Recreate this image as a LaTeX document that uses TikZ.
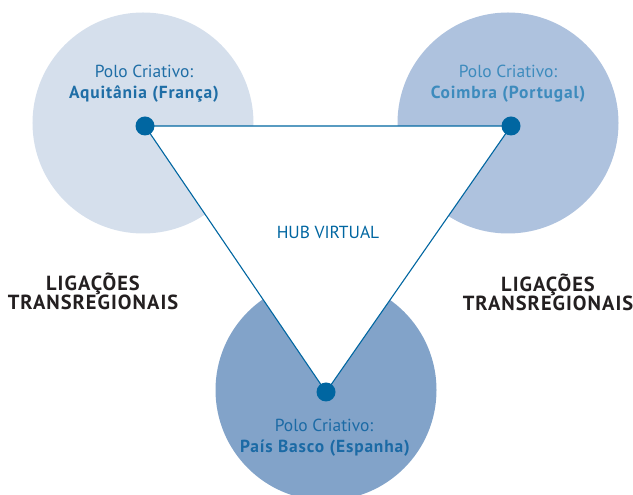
\documentclass[tikz,border=0pt]{standalone}
\usepackage{fontspec}
\setmainfont{PT Sans}
\definecolor{lineblue}{HTML}{0066A1}
\definecolor{circA}{HTML}{D5DFEC}
\definecolor{circB}{HTML}{AEC2DE}
\definecolor{circC}{HTML}{82A3C9}
\definecolor{txtA}{HTML}{1F6EA6}
\definecolor{txtB}{HTML}{3D8BBD}
\definecolor{txtC}{HTML}{1B6AA5}
\definecolor{darktxt}{HTML}{231F20}
\begin{document}
\begin{tikzpicture}[x=1bp,y=1bp,
  polo/.style={circle,draw=none,minimum size=221bp,inner sep=0pt},
  hubdot/.style={circle,fill=lineblue,draw=none,minimum size=19bp,inner sep=0pt},
  link/.style={draw=lineblue,line width=1.1bp},
  regtxt/.style={anchor=base,inner sep=0pt,font=\fontsize{17.5}{21}\selectfont},
  boldtxt/.style={anchor=base,inner sep=0pt,font=\fontsize{17.5}{21}\selectfont\bfseries\addfontfeature{LetterSpace=4.8}},
  lig/.style={anchor=base,inner sep=0pt,text=darktxt,font=\fontsize{20.5}{20}\selectfont\bfseries\addfontfeature{LetterSpace=5}}]
\useasboundingbox (0,0) rectangle (633,495);
\begin{scope}
\clip (0,0) rectangle (633,495);
\node[polo,fill=circA] (cA) at (143,372) {};
\node[polo,fill=circB] (cB) at (508,372) {};
\node[polo,fill=circC] (cC) at (326,105) {};
\end{scope}
\coordinate (pA) at (145,369);
\coordinate (pB) at (511,369);
\coordinate (pC) at (326,103);
\filldraw[link,fill=white,line join=miter] (pA) -- (pB) -- (pC) -- cycle;
\node[hubdot] (dA) at (pA) {};
\node[hubdot] (dB) at (pB) {};
\node[hubdot] (dC) at (pC) {};
\node[regtxt,text=txtA] (tA1) at (144,417.3) {Polo Criativo:};
\node[boldtxt,text=txtA] (tA2) at (144,396.7) {Aquitânia (França)};
\node[regtxt,text=txtB] (tB1) at (508,417.3) {Polo Criativo:};
\node[boldtxt,text=txtB] (tB2) at (508,396.7) {Coimbra (Portugal)};
\node[regtxt,text=txtC] (tC1) at (324,63) {Polo Criativo:};
\node[boldtxt,text=txtC] (tC2) at (325,42) {País Basco (Espanha)};
\node[regtxt,text=lineblue] (hub) at (328,256) {HUB VIRTUAL};
\node[lig] (lA1) at (93,204) {LIGAÇÕES};
\node[lig] (lA2) at (93,185) {TRANSREGIONAIS};
\node[lig] (lB1) at (548,203) {LIGAÇÕES};
\node[lig] (lB2) at (548,184) {TRANSREGIONAIS};
\end{tikzpicture}
\end{document}
